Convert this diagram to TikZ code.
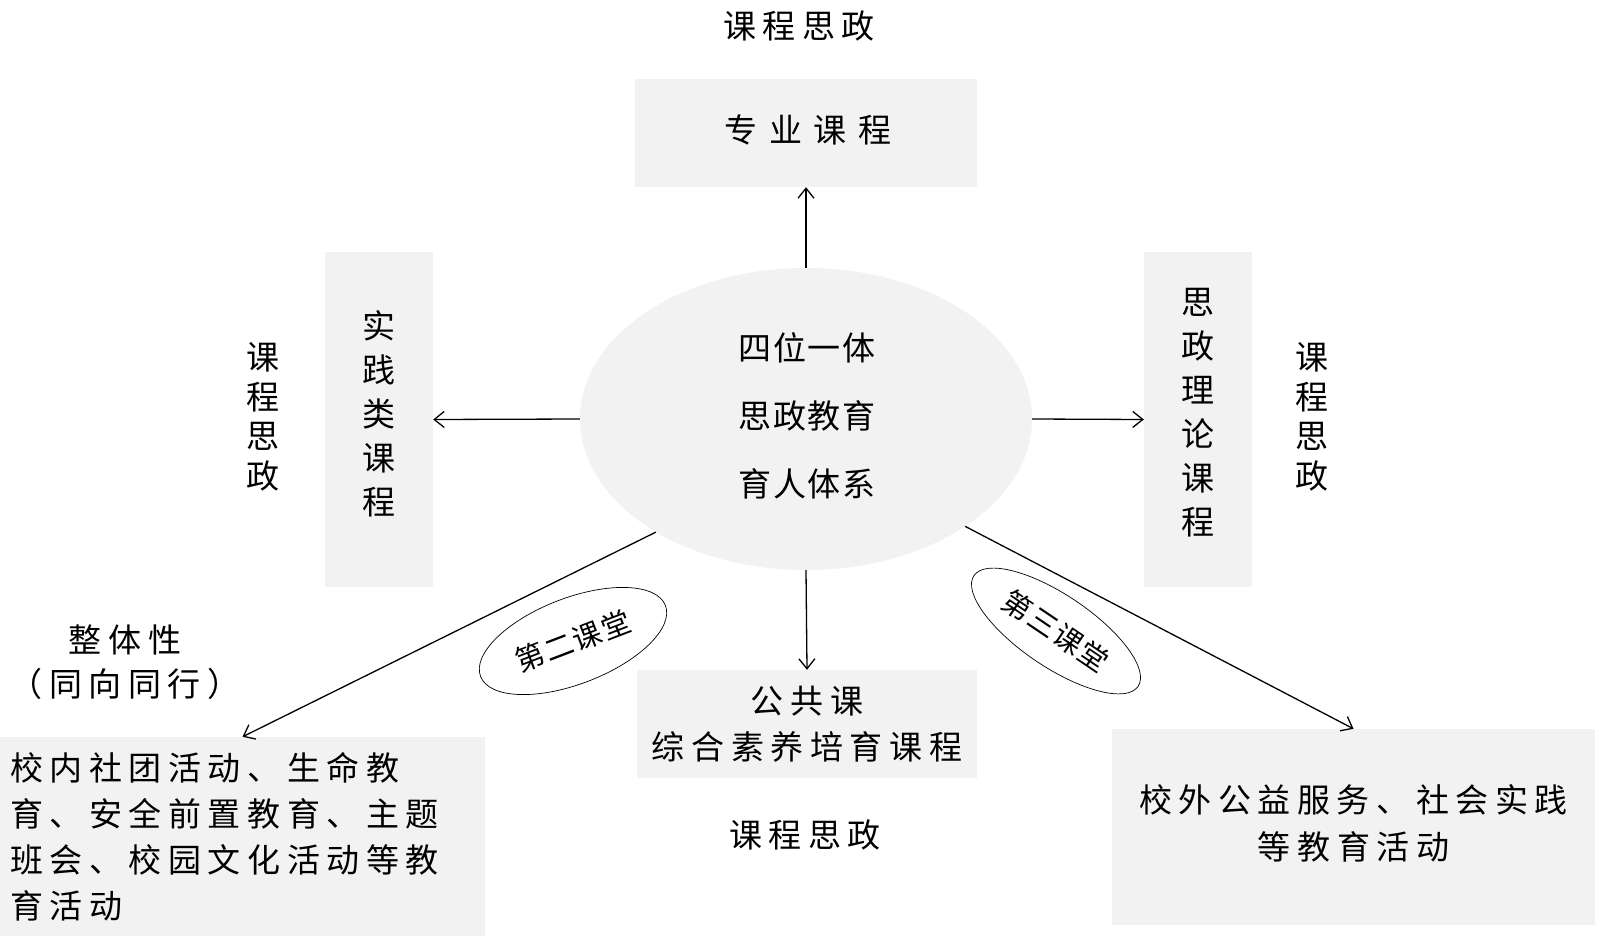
\documentclass[tikz,border=0pt]{standalone}
\usepackage{fontspec}
\usetikzlibrary{shapes.geometric,arrows.meta}
\newfontfamily\cjk{Noto Sans CJK SC}
\newfontfamily\cjkm[LetterSpace=5]{Noto Sans CJK SC}
\newfontfamily\cjkw[LetterSpace=20]{Noto Sans CJK SC}
\newfontfamily\cjkx[LetterSpace=35]{Noto Sans CJK SC}
\definecolor{boxgray}{RGB}{242,242,242}
\begin{document}
\begin{tikzpicture}[x=1pt,y=-1pt,
  box/.style={fill=boxgray, inner sep=0pt, align=center, font={\cjkw\fontsize{33}{46}\selectfont}},
  vbox/.style={fill=boxgray, inner sep=0pt, align=center, font={\cjk\fontsize{33}{44}\selectfont}},
  lbl/.style={inner sep=0pt, align=center, font={\cjkw\fontsize{33}{44}\selectfont}},
  vlbl/.style={inner sep=0pt, align=center, font={\cjk\fontsize{33}{39.6}\selectfont}},
  arr/.style={-{Straight Barb[length=10pt,width=16pt]}, line width=1.3pt},
  small/.style={draw, ellipse, line width=0.7pt, inner sep=0pt, font={\cjkm\fontsize{29}{29}\selectfont}}]
\useasboundingbox (0,0) rectangle (1600,936);
\fill[white] (0,0) rectangle (1600,936);

% centre ellipse
\node[ellipse, fill=boxgray, minimum width=452pt, minimum height=302pt, inner sep=0pt] (E) at (806,419) {};
\node[inner sep=0pt, align=center, font={\cjkm\fontsize{33}{68}\selectfont}] (Et) at (807,416) {四位一体\\思政教育\\育人体系};

% boxes
\node[box, minimum width=342pt, minimum height=108pt] (T) at (806,133) {};
\node[inner sep=0pt, font={\cjkx\fontsize{33}{44}\selectfont}] (Tt) at (808,130) {专业课程};
\node[vbox, minimum width=108pt, minimum height=335pt] (L) at (379,419.5) {};
\node[inner sep=0pt, align=center, font={\cjk\fontsize{33}{44}\selectfont}] (Lt) at (379,414) {实\\践\\类\\课\\程};
\node[vbox, minimum width=108pt, minimum height=335pt] (R) at (1198,419.5) {};
\node[inner sep=0pt, align=center, font={\cjk\fontsize{33}{44}\selectfont}] (Rt) at (1198,413) {思\\政\\理\\论\\课\\程};
\node[box, minimum width=340pt, minimum height=108pt] (B) at (807,724) {公共课\\综合素养培育课程};
\node[fill=boxgray, inner ysep=0pt, inner xsep=10pt, text width=465pt, align=left, minimum height=199pt,
      font={\cjkw\fontsize{33}{46}\selectfont}] (BL) at (242.5,836.5)
      {校内社团活动、生命教\\育、安全前置教育、主题\\班会、校园文化活动等教\\育活动};
\node[box, minimum width=483pt, minimum height=196pt] (BR) at (1353.5,827) {};
\node[inner sep=0pt, align=center, font={\cjkw\fontsize{33}{47}\selectfont}] (BRt) at (1353.5,823.5)
      {校外公益服务、社会实践\\等教育活动};

% labels
\node[lbl] (l1) at (799,26) {课程思政};
\node[lbl] (l2) at (805,835) {课程思政};
\node[vlbl] (l3) at (263,417) {课\\程\\思\\政};
\node[vlbl] (l4) at (1312,417) {课\\程\\思\\政};
\node[lbl] (l5) at (125,640) {整体性};
\node[lbl] (l6) at (125,684) {（同向同行）};

% small ellipses
\node[small, minimum width=198pt, minimum height=86pt, rotate=21] (s2) at (573,641) {第二课堂};
\node[small, minimum width=198pt, minimum height=72pt, rotate=-34] (s3) at (1056,631) {第三课堂};

% arrows
\draw[arr] (E.north) -- (T.south);
\draw[arr] (E.west) -- (L.east);
\draw[arr] (E.east) -- (R.west);
\draw[arr] (E.south) -- (B.north);
\draw[arr] (E.217) -- (BL.north);
\draw[arr] (E.326) -- (BR.north);
\end{tikzpicture}
\end{document}
